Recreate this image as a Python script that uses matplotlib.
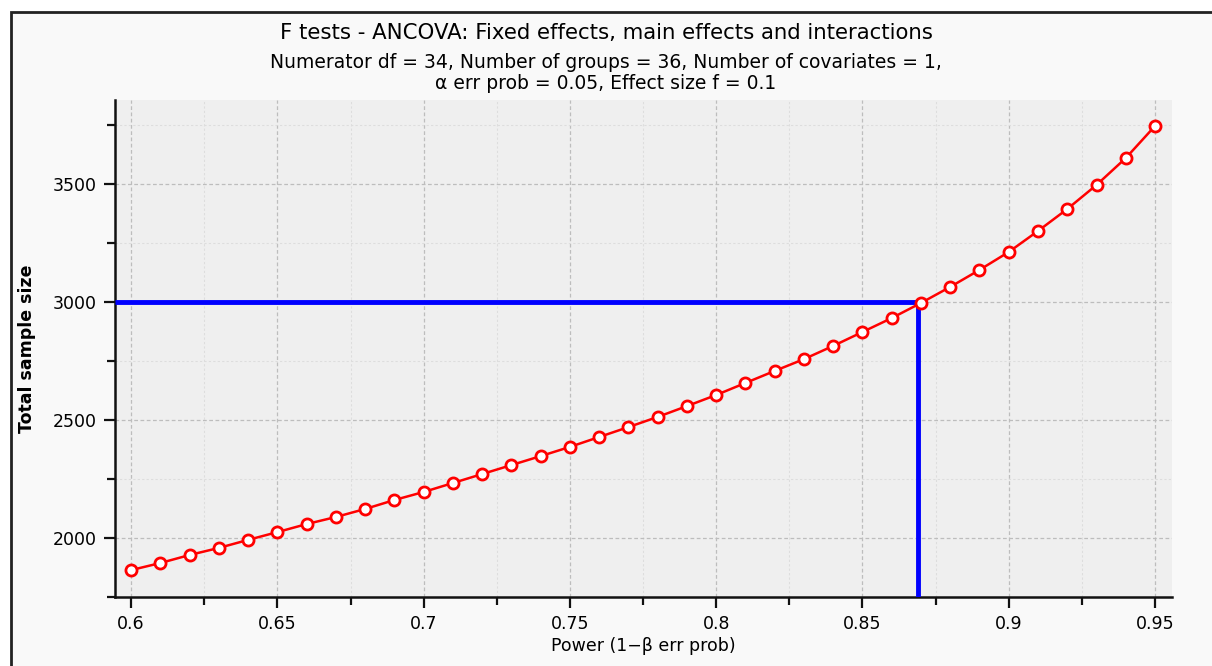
import matplotlib.pyplot as plt
from matplotlib.patches import Rectangle
from matplotlib.ticker import MultipleLocator

# power values and the total sample size needed for each
power = [0.60, 0.61, 0.62, 0.63, 0.64, 0.65, 0.66, 0.67, 0.68, 0.69,
         0.70, 0.71, 0.72, 0.73, 0.74, 0.75, 0.76, 0.77, 0.78, 0.79,
         0.80, 0.81, 0.82, 0.83, 0.84, 0.85, 0.86, 0.87, 0.88, 0.89,
         0.90, 0.91, 0.92, 0.93, 0.94, 0.95]
sample_size = [1864, 1894, 1928, 1958, 1992, 2025, 2059, 2089, 2123, 2161,
               2195, 2233, 2271, 2309, 2347, 2386, 2428, 2470, 2513, 2559,
               2606, 2657, 2708, 2758, 2814, 2873, 2932, 2996, 3064, 3136,
               3212, 3301, 3394, 3496, 3610, 3746]

# chosen design point
target_n = 3000
target_power = 0.869

title = "F tests - ANCOVA: Fixed effects, main effects and interactions"
subtitle = ("Numerator df = 34, Number of groups = 36, Number of covariates = 1,\n"
            "\u03b1 err prob = 0.05, Effect size f = 0.1")

plt.rcParams['font.family'] = ['DejaVu Sans']

fig = plt.figure(figsize=(12.12, 6.66), dpi=100, facecolor='white')

# panel background with a dark frame on the top and left
fig.patches.append(Rectangle((11 / 1212, -0.1), 1.2, 1 - 12 / 666 + 0.1,
                             transform=fig.transFigure, facecolor='#f9f9f9',
                             edgecolor='#222222', linewidth=2, zorder=-5))

ax = fig.add_axes([115 / 1212, 1 - 597 / 666, (1172 - 115) / 1212, (597 - 100) / 666])
ax.set_zorder(1)
ax.set_facecolor('#efefef')

ax.plot(power, sample_size, color='red', linewidth=1.8, marker='o',
        markersize=8, markerfacecolor='white', markeredgecolor='red',
        markeredgewidth=2, zorder=4)

# reference lines to the chosen design
ax.plot([0.5945, target_power], [target_n, target_n], color='blue', linewidth=3.5,
        solid_capstyle='butt', zorder=3)
ax.plot([target_power, target_power], [1750, target_n], color='blue', linewidth=3.5,
        solid_capstyle='butt', zorder=3)

ax.set_xlim(0.5945, 0.9558)
ax.set_ylim(1750, 3856)

ax.xaxis.set_major_locator(MultipleLocator(0.05))
ax.xaxis.set_minor_locator(MultipleLocator(0.025))
ax.yaxis.set_major_locator(MultipleLocator(500))
ax.yaxis.set_minor_locator(MultipleLocator(250))
ax.xaxis.set_major_formatter(plt.FuncFormatter(lambda v, p: ('%.2f' % v).rstrip('0')))

ax.grid(which='major', color='#bdbdbd', linestyle=(0, (3, 2)), linewidth=0.9)
ax.grid(which='minor', color='#dddddd', linestyle=(0, (2, 2)), linewidth=0.8)
ax.set_axisbelow(True)

for side in ('top', 'right'):
    ax.spines[side].set_visible(False)
for side in ('left', 'bottom'):
    ax.spines[side].set_linewidth(1.8)
    ax.spines[side].set_color('#111111')

ax.tick_params(which='major', length=8, width=1.6, labelsize=12.5, color='#111111', pad=5)
ax.tick_params(which='minor', length=6, width=1.6, color='#111111')

ax.set_xlabel("Power (1\u2212\u03b2 err prob)", fontsize=12.5, labelpad=3)
ax.set_ylabel("Total sample size", fontsize=12.5, fontweight='bold', labelpad=12)

fig.text(0.5, 1 - 33 / 666, title, ha='center', va='center', fontsize=15.3)
fig.text(0.5, 1 - 73 / 666, subtitle, ha='center', va='center', fontsize=13.5,
         linespacing=1.15)

fig.savefig('out.png', dpi=100, facecolor=fig.get_facecolor())
